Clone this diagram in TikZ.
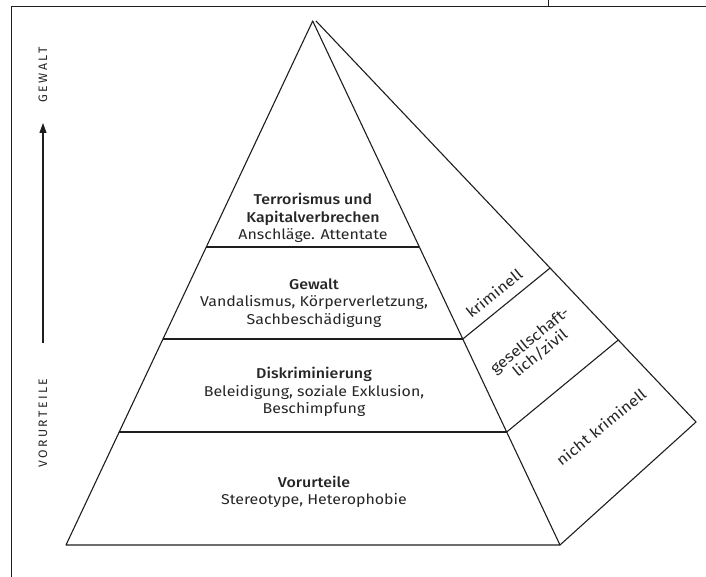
\documentclass[tikz,border=0pt]{standalone}
\usepackage{fontspec}
\setmainfont[FakeStretch=1.12, BoldFont={Fira Sans Medium}]{Fira Sans}
\newfontfamily\spacedfont[LetterSpace=20]{Fira Sans}
\usetikzlibrary{calc,arrows.meta}
\definecolor{ink}{HTML}{1E1E1E}
\definecolor{txt}{HTML}{262626}
\tikzset{
  edge/.style={draw=ink, line width=1.1bp, line join=round},
  frame/.style={draw=ink, line width=0.9bp},
  level/.style={align=center, text=txt, font=\fontsize{14.3}{17.5}\selectfont, inner sep=0pt},
  side/.style={align=center, text=txt, font=\fontsize{15}{16.5}\selectfont, inner sep=0pt, rotate=39},
  axislabel/.style={text=txt, font=\spacedfont\fontsize{12.3}{13}\selectfont, rotate=90, inner sep=0pt}
}
\begin{document}
\begin{tikzpicture}[x=1bp,y=-1bp]
\useasboundingbox (0,0) rectangle (706,577);
% frame
\coordinate (f1) at (11,577);
\coordinate (f2) at (11,6);
\coordinate (f3) at (706,6);
\coordinate (t1) at (548,0);
\coordinate (t2) at (548,6);
\draw[frame] (f1) -- (f2) -- (f3);
\draw[frame] (t1) -- (t2);
% pyramid corners
\coordinate (A) at (312.7,21);
\coordinate (A2) at (316,21);
\coordinate (BL) at (66,545);
\coordinate (BR) at (560,545);
\coordinate (BK) at (696,422);
% level points
\coordinate (L1) at ($(A)!0.4313!(BL)$);
\coordinate (R1) at ($(A)!0.4313!(BR)$);
\coordinate (L2) at ($(A)!0.6069!(BL)$);
\coordinate (R2) at ($(A)!0.6069!(BR)$);
\coordinate (L3) at ($(A)!0.7844!(BL)$);
\coordinate (R3) at ($(A)!0.7844!(BR)$);
\coordinate (K1) at ($(A2)!0.616!(BK)$);
\coordinate (K2) at ($(A2)!0.7955!(BK)$);
% outline
\draw[edge] (BL) -- (A) -- (BR) -- cycle;
\draw[edge] (A2) -- (BK) -- (BR);
\draw[edge] (L1) -- (R1);
\draw[edge] (L2) -- (R2);
\draw[edge] (L3) -- (R3);
\draw[edge] (R2) -- (K1);
\draw[edge] (R3) -- (K2);
% level texts
\node[level] (terr) at (313,218) {\textbf{Terrorismus und}\\\textbf{Kapitalverbrechen}\\Anschläge. Attentate};
\node[level] (gew) at (314,303) {\textbf{Gewalt}\\Vandalismus, Körperverletzung,\\Sachbeschädigung};
\node[level] (disk) at (314,392) {\textbf{Diskriminierung}\\Beleidigung, soziale Exklusion,\\Beschimpfung};
\node[level] (vor) at (314,492) {\textbf{Vorurteile}\\Stereotype, Heterophobie};
% side texts
\node[side] (krim) at (494,293) {kriminell};
\node[side] (ges) at (535,347) {gesellschaft-\\lich/zivil};
\node[side] (nkrim) at (601,427) {nicht kriminell};
% axis
\node[axislabel] (gewalt) at (43,75) {GEWALT};
\node[axislabel] (vorurt) at (43,423) {VORURTEILE};
\coordinate (ab) at (43,343);
\coordinate (at) at (43,123);
\draw[draw=ink, line width=1.1bp, -{Triangle[length=10bp,width=7bp]}] (ab) -- (at);
\end{tikzpicture}
\end{document}
